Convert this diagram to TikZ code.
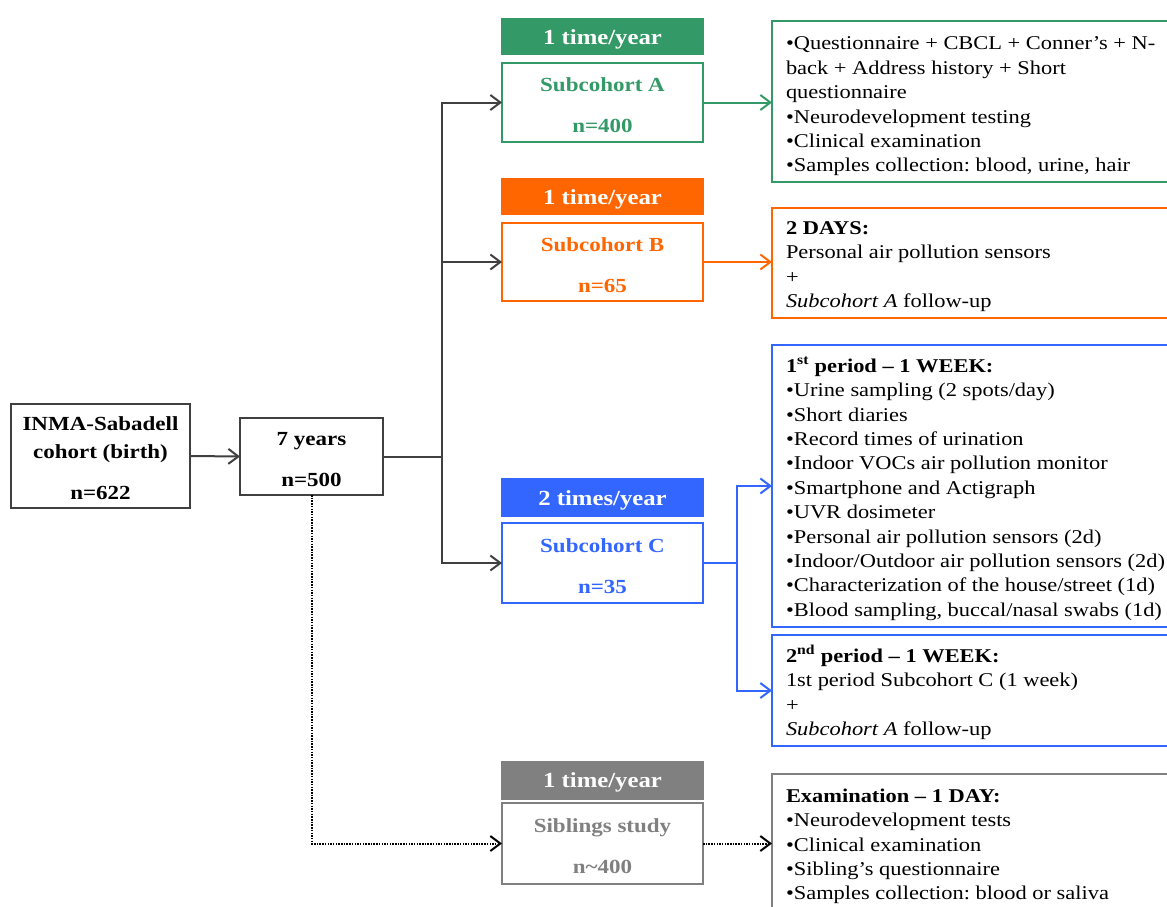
\documentclass[tikz,border=0pt]{standalone}
\usepackage{fontspec}
\setmainfont{Liberation Serif}[FakeStretch=1.15]
\usetikzlibrary{arrows.meta}
\definecolor{cgreen}{HTML}{339966}
\definecolor{corange}{HTML}{FF6600}
\definecolor{cblue}{HTML}{3366FF}
\definecolor{cgray}{HTML}{808080}
\definecolor{cdark}{HTML}{404040}
\newcommand\bxfont{\fontsize{20}{28}\selectfont\bfseries}
\newcommand\sbfont{\fontsize{20}{41}\selectfont\bfseries}
\newcommand\hdfont{\fontsize{21.5}{24}\selectfont\bfseries}
\newcommand\dtfont{\fontsize{19.5}{24.4}\selectfont}
\newcommand\up[1]{\rule{0pt}{#1pt}}
\frenchspacing
\tikzset{
  every node/.style={outer sep=0pt},
  mainbox/.style={draw=cdark, line width=1.5pt, align=center, font=\bxfont, inner sep=0pt},
  hdr/.style={fill=#1, text=white, inner sep=0pt, minimum width=203pt, font=\hdfont},
  sub/.style={draw=#1, text=#1, line width=2pt, minimum width=201pt, align=center, font=\sbfont, inner sep=0pt},
  det/.style={draw=#1, line width=2pt, minimum width=420pt, anchor=north west, inner sep=0pt},
  dtext/.style={anchor=base west, inner sep=0pt, font=\dtfont},
  tip/.style={-{Straight Barb[length=10pt,width=15pt]}},
  conn/.style={draw=#1, line width=2pt},
  dotconn/.style={draw=black, line width=2pt, dash pattern=on 1.5pt off 1.2pt},
}
\begin{document}
\frenchspacing
\begin{tikzpicture}[x=1pt,y=-1pt]
\useasboundingbox (0,0) rectangle (1167,907);
\clip (0,0) rectangle (1167,907);
% main boxes
\node[mainbox, minimum width=179pt, minimum height=104pt] (b1) at (100.5,456) {\up{18.5}INMA-Sabadell\\cohort (birth)\\[13pt]n=622};
\node[mainbox, minimum width=143pt, minimum height=77pt] (b2) at (311.5,456.5) {\up{19.5}7 years\\[13pt]n=500};
% headers
\node[hdr=cgreen, minimum height=37pt] (hA) at (602.5,36.5) {\up{20.5}1 time/year};
\node[hdr=corange, minimum height=37pt] (hB) at (602.5,196.5) {\up{20.5}1 time/year};
\node[hdr=cblue, minimum height=39pt] (hC) at (602.5,497.5) {\up{20.5}2 times/year};
\node[hdr=cgray, minimum height=39pt] (hS) at (602.5,780) {\up{20.5}1 time/year};
% subcohort boxes
\node[sub=cgreen, minimum height=79pt] (sA) at (602.5,102.5) {\up{19.6}Subcohort A\\n=400};
\node[sub=corange, minimum height=78pt] (sB) at (602.5,262) {\up{19.6}Subcohort B\\n=65};
\node[sub=cblue, minimum height=80pt] (sC) at (602.5,563) {\up{19.6}Subcohort C\\n=35};
\node[sub=cgray, minimum height=81pt] (sS) at (602.5,843.5) {\up{19.6}Siblings study\\n\textasciitilde400};
% detail boxes
\node[det=cgreen, minimum height=161pt] (dA) at (772,21) {};
\node[det=corange, minimum height=110pt] (dB) at (772,208) {};
\node[det=cblue, minimum height=282pt] (dC1) at (772,345) {};
\node[det=cblue, minimum height=111pt] (dC2) at (772,635) {};
\node[det=cgray, minimum height=200pt] (dS) at (772,774) {};
% detail texts
\node[dtext] (tA) at (786,50) {\begin{tabular}[t]{@{}l@{}}
•Questionnaire + CBCL + Conner’s + N-\\
back + Address history + Short\\
questionnaire\\
•Neurodevelopment testing\\
•Clinical examination\\
•Samples collection: blood, urine, hair
\end{tabular}};
\node[dtext] (tB) at (786,234.5) {\begin{tabular}[t]{@{}l@{}}
\textbf{2 DAYS:}\\
Personal air pollution sensors\\
+\\
\textit{Subcohort A} follow-up
\end{tabular}};
\node[dtext] (tC1) at (786,372.2) {\begin{tabular}[t]{@{}l@{}}
\textbf{1\textsuperscript{st} period -- 1 WEEK:}\\
•Urine sampling (2 spots/day)\\
•Short diaries\\
•Record times of urination\\
•Indoor VOCs air pollution monitor\\
•Smartphone and Actigraph\\
•UVR dosimeter\\
•Personal air pollution sensors (2d)\\
•Indoor/Outdoor air pollution sensors (2d)\\
•Characterization of the house/street (1d)\\
•Blood sampling, buccal/nasal swabs (1d)
\end{tabular}};
\node[dtext] (tC2) at (786,662.2) {\begin{tabular}[t]{@{}l@{}}
\textbf{2\textsuperscript{nd} period -- 1 WEEK:}\\
1st period Subcohort C (1 week)\\
+\\
\textit{Subcohort A} follow-up
\end{tabular}};
\node[dtext] (tS) at (786,802.2) {\begin{tabular}[t]{@{}l@{}}
\textbf{Examination -- 1 DAY:}\\
•Neurodevelopment tests\\
•Clinical examination\\
•Sibling’s questionnaire\\
•Samples collection: blood or saliva
\end{tabular}};
% connectors
\coordinate (j1) at (442,456.5);
\coordinate (jC) at (737,563);
\draw[conn=cdark, tip] (b1.east) -- (b2.west);
\draw[conn=cdark] (b2.east) -- (j1);
\draw[conn=cdark, tip] (j1) |- (sA.west);
\draw[conn=cdark, tip] (j1) |- (sB.west);
\draw[conn=cdark, tip] (j1) |- (sC.west);
\draw[conn=cgreen, tip] (sA.east) -- (sA.east -| dA.west);
\draw[conn=corange, tip] (sB.east) -- (sB.east -| dB.west);
\draw[conn=cblue] (sC.east) -- (jC);
\draw[conn=cblue, tip] (jC) |- (dC1.west);
\draw[conn=cblue, tip] (jC) |- (dC2.west);
\draw[dotconn, tip] (b2.south) |- (sS.west);
\draw[dotconn, tip] (sS.east) -- (sS.east -| dS.west);
\end{tikzpicture}
\end{document}
